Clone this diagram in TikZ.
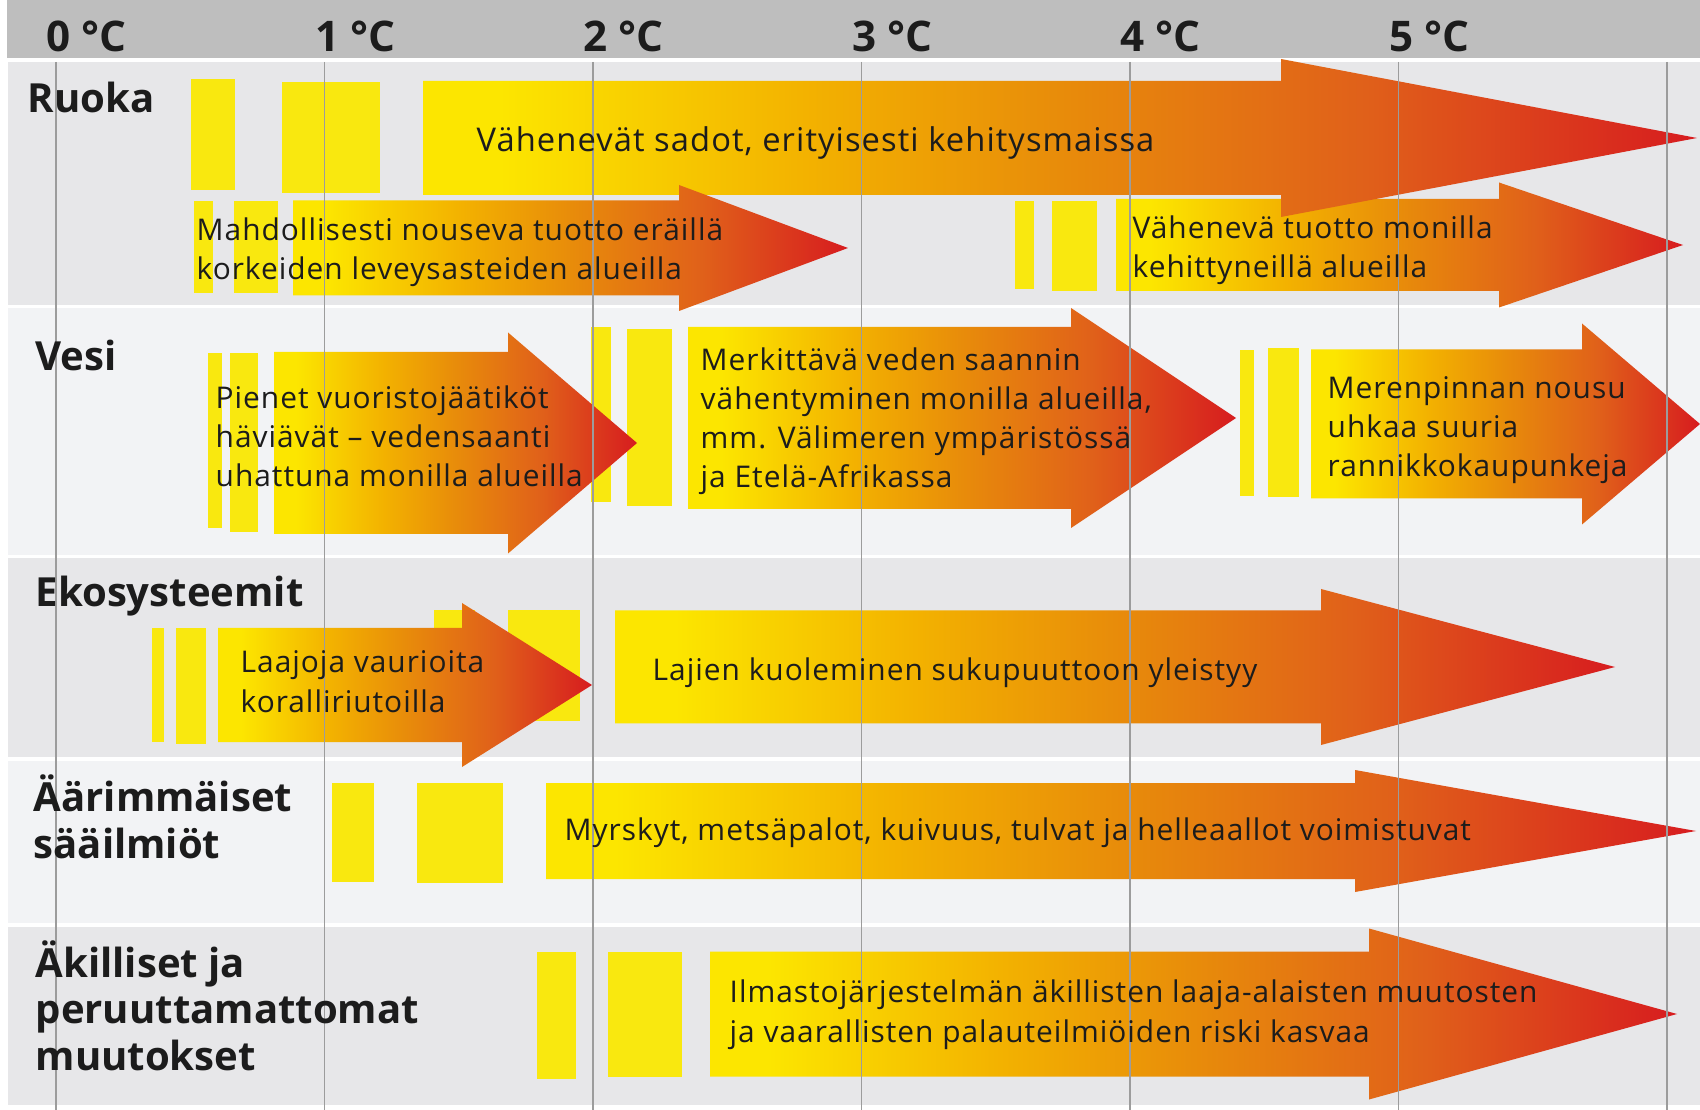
\documentclass[tikz,border=0pt]{standalone}
\usepackage{fontspec}
\setmainfont{Open Sans}
\usepackage{tikz}
\definecolor{HeadGray}{HTML}{BEBEBE}
\definecolor{RowDark}{HTML}{E7E7E9}
\definecolor{RowLight}{HTML}{F2F3F5}
\definecolor{GridGray}{HTML}{9C9C9C}
\definecolor{BarYellow}{HTML}{F9E80F}
\definecolor{HeatYellow}{HTML}{FCE600}
\definecolor{HeatAmber}{HTML}{F3B200}
\definecolor{HeatOrange}{HTML}{E88C0A}
\definecolor{HeatDeep}{HTML}{E0601A}
\definecolor{HeatRed}{HTML}{D71C1F}
\definecolor{Ink}{HTML}{1C1C1C}
\pgfdeclarehorizontalshading{heatgrad}{100bp}{color(0bp)=(HeatYellow); color(25bp)=(HeatYellow); color(28bp)=(HeatYellow); color(40bp)=(HeatAmber); color(50bp)=(HeatOrange); color(62bp)=(HeatDeep); color(75bp)=(HeatRed); color(100bp)=(HeatRed)}
\tikzset{
  heat/.style={shading=heatgrad},
  bar/.style={fill=BarYellow},
  grid/.style={draw=GridGray,line width=0.35pt},
  lbl/.style={anchor=base west,inner sep=0pt,align=left,text=Ink,
    font=\fontsize{8.5}{11.1}\selectfont\addfontfeatures{LetterSpace=3.3}},
  biglbl/.style={lbl,font=\fontsize{9.3}{11.1}\selectfont\addfontfeatures{LetterSpace=3.3}},
  cat/.style={lbl,font=\bfseries\fontsize{11.4}{13.1}\selectfont},
  temp/.style={lbl,font=\bfseries\fontsize{12}{14}\selectfont}
}
\newcommand{\heatarrow}[6]{%
  \shade[heat] (#1,#4-#5) -- (#2,#4-#5) -- (#2,#4-#6) -- (#3,#4)
    -- (#2,#4+#6) -- (#2,#4+#5) -- (#1,#4+#5) -- cycle;}
\begin{document}
\begin{tikzpicture}[x=0.01cm,y=-0.01cm]
  \useasboundingbox[fill=white] (0,0) rectangle (1700,1110);
  \fill[HeadGray] (7,0) rectangle (1700,58);
  \fill[RowDark] (8,62) rectangle (1700,305);
  \fill[RowLight] (8,308) rectangle (1700,555);
  \fill[RowDark] (8,558) rectangle (1700,757);
  \fill[RowLight] (8,761) rectangle (1700,923);
  \fill[RowDark] (8,927) rectangle (1700,1105);

  \foreach \x/\y/\u/\v in {191/79/235/190, 282/82/380/193, 194/201/213/293, 234/201/278/293,
      1015/201/1034/289, 1052/201/1097/291, 208/353/222/528, 230/353/258/532,
      591/327/611/502, 627/329/672/506, 1240/350/1254/496, 1268/348/1299/497,
      152/628/164/742, 176/628/206/744, 434/610/475/721, 508/610/580/721,
      332/783/374/882, 417/783/503/883, 537/952/576/1079, 608/952/682/1077}
    \fill[bar] (\x,\y) rectangle (\u,\v);

  \heatarrow{1116}{1499}{1683}{245}{46}{62.5}
  \heatarrow{423}{1281}{1697}{138}{57}{79}
  \heatarrow{293}{679}{848}{248}{47.5}{63}
  \heatarrow{688}{1071}{1236}{418}{91}{110}
  \heatarrow{274}{508}{637}{443}{91}{110.5}
  \heatarrow{1311}{1582}{1700}{424}{74.5}{100.5}
  \heatarrow{615}{1321}{1615}{667}{56.5}{78}
  \heatarrow{218}{462}{592}{685}{57}{82}
  \heatarrow{546}{1355}{1696}{831}{48}{61}
  \heatarrow{710}{1369}{1677}{1014}{62.5}{85.5}

  \foreach \t in {0,...,6}
    \draw[grid] (56+268.5*\t,62) -- (56+268.5*\t,1110);
  \foreach \t in {0,...,5}
    \node[temp] (deg\t) at (46+268.5*\t,52) {\t\ °C};

  \node[cat] (ruoka) at (27,113) {Ruoka};
  \node[cat] (vesi) at (35,371) {Vesi};
  \node[cat] (eko) at (35,607) {Ekosysteemit};
  \node[cat] (saa) at (33,858) {Äärimmäiset\\sääilmiöt};
  \node[cat] (akil) at (35,1070) {Äkilliset ja\\peruuttamattomat\\muutokset};

  \node[biglbl] (sadot) at (476,152) {Vähenevät sadot, erityisesti kehitysmaissa};
  \node[lbl] (nouseva) at (196,280) {Mahdollisesti nouseva tuotto eräillä\\korkeiden leveysasteiden alueilla};
  \node[lbl] (vahenev) at (1132,278) {Vähenevä tuotto monilla\\kehittyneillä alueilla};
  \node[lbl] (jaatikot) at (215,487) {Pienet vuoristojäätiköt\\häviävät – vedensaanti\\uhattuna monilla alueilla};
  \node[lbl] (saanti) at (700,488) {Merkittävä veden saannin\\vähentyminen monilla alueilla,\\mm. Välimeren ympäristössä\\ja Etelä-Afrikassa};
  \node[lbl] (meri) at (1327,477) {Merenpinnan nousu\\uhkaa suuria\\rannikkokaupunkeja};
  \node[lbl] (koralli) at (240,712) {Laajoja vaurioita\\koralliriutoilla};
  \node[lbl] (lajit) at (652,680) {Lajien kuoleminen sukupuuttoon yleistyy};
  \node[lbl] (myrsky) at (564,840) {Myrskyt, metsäpalot, kuivuus, tulvat ja helleaallot voimistuvat};
  \node[lbl] (riski) at (729,1042) {Ilmastojärjestelmän äkillisten laaja-alaisten muutosten\\ja vaarallisten palauteilmiöiden riski kasvaa};
\end{tikzpicture}
\end{document}
